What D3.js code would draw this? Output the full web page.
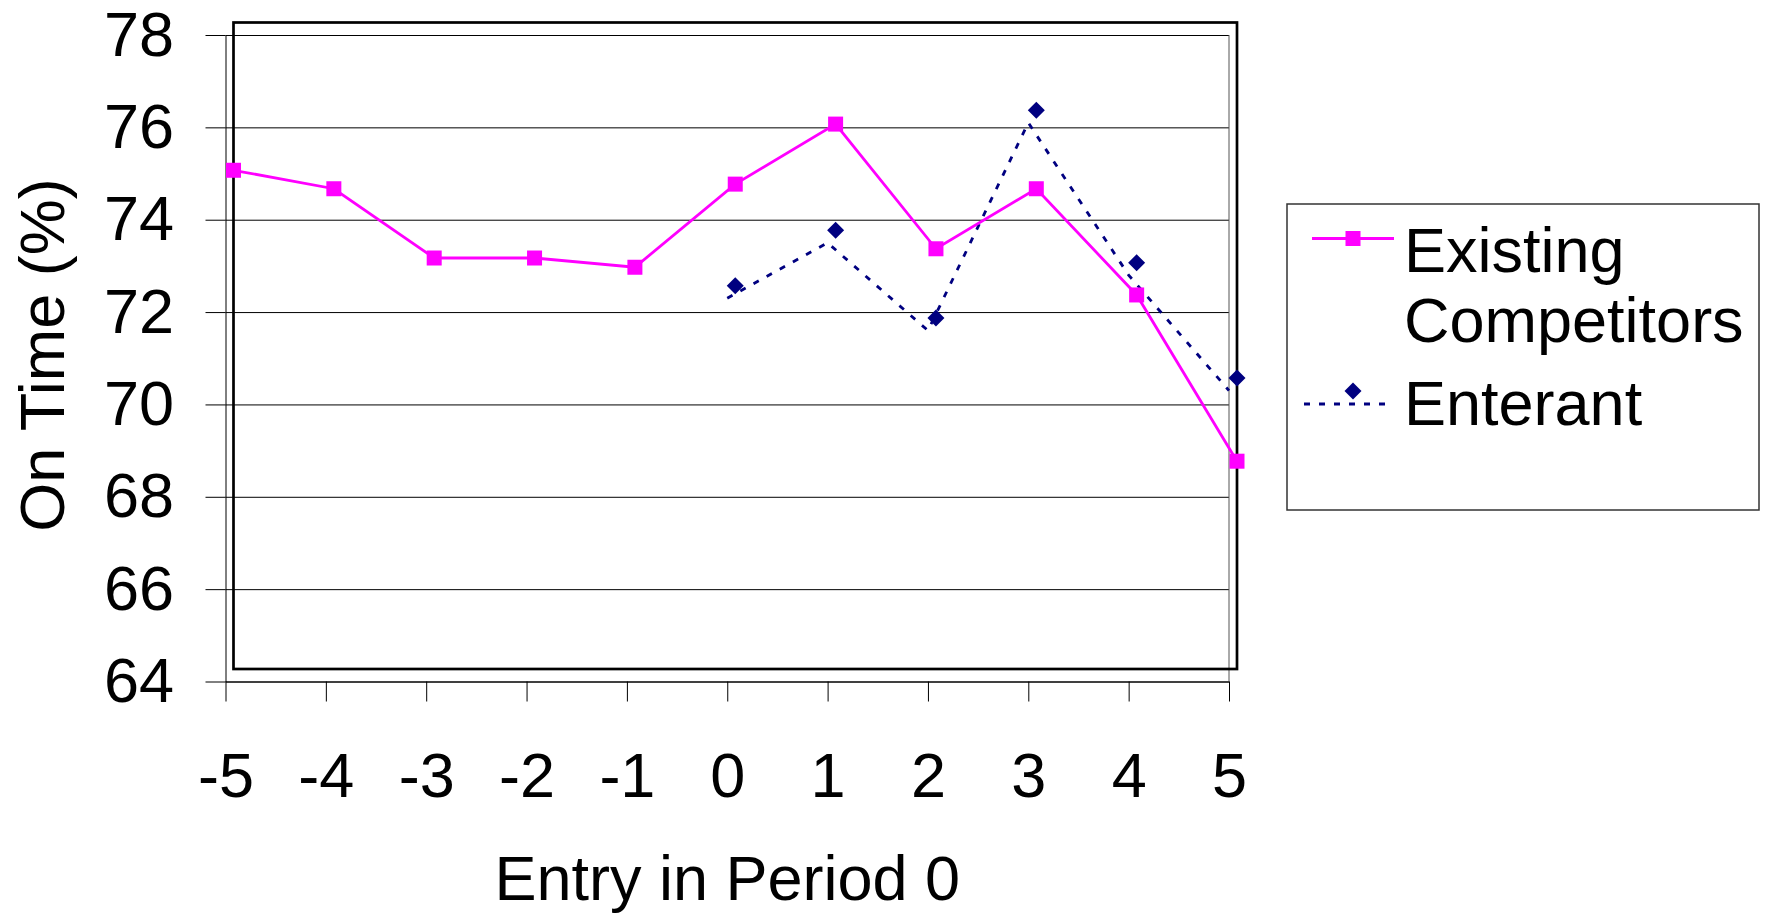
<!DOCTYPE html>
<html>
<head>
<meta charset="utf-8">
<script src="https://cdn.jsdelivr.net/npm/d3@7"></script>
<style>
  html, body { margin: 0; padding: 0; background: #fff; }
  svg { display: block; font-family: 'Liberation Sans', Arial, sans-serif; }
</style>
</head>
<body>
<div id="app"></div>
<script>
'use strict'

// Data
const periods = [-5, -4, -3, -2, -1, 0, 1, 2, 3, 4, 5]
const existingCompetitors = [74.8, 74.4, 72.9, 72.9, 72.7, 74.5, 75.8, 73.1, 74.4, 72.1, 68.5]
const enterantPeriods = [0, 1, 2, 3, 4, 5]
const enterant = [72.3, 73.5, 71.6, 76.1, 72.8, 70.3]
const yTicks = [64, 66, 68, 70, 72, 74, 76, 78]
const seriesNames = ['Existing', 'Competitors', 'Enterant']

const drawChart = () => {

  const setWidth = 1767
  const setHeight = 915

  const plot = {
    left: 225.5,
    right: 1229,
    top: 35,
    bottom: 681.5
  }

  // the original renders frame / markers slightly displaced from the grid
  const shift = { x: 8, y: -12.5 }
  const fontSize = 63

  const svg = d3.select('#app')
    .append('svg')
    .attr('width', setWidth)
    .attr('height', setHeight)

  svg.append('rect')
    .attr('width', setWidth)
    .attr('height', setHeight)
    .attr('fill', '#fff')

  const scaleX = d3.scaleLinear()
    .domain([d3.min(periods), d3.max(periods)])
    .range([plot.left, plot.right])

  const scaleY = d3.scaleLinear()
    .domain([d3.min(yTicks), d3.max(yTicks)])
    .range([plot.bottom, plot.top])

  // gridlines
  svg.append('g')
    .attr('transform', `translate(${plot.left},0)`)
    .call(d3.axisLeft(scaleY)
      .tickValues(yTicks)
      .tickSize(-(plot.right - plot.left))
      .tickFormat(''))
    .call(g => g.select('.domain').remove())
    .call(g => g.selectAll('line').attr('stroke', '#000').attr('stroke-width', 1))

  // right edge of plot area
  svg.append('line')
    .attr('x1', plot.right).attr('x2', plot.right)
    .attr('y1', plot.top).attr('y2', plot.bottom)
    .attr('stroke', '#555')
    .attr('stroke-width', 1)

  // y axis
  svg.append('g')
    .attr('transform', `translate(${plot.left},0)`)
    .call(d3.axisLeft(scaleY)
      .tickValues(yTicks)
      .tickSize(20)
      .tickSizeOuter(0)
      .tickPadding(31.5))
    .call(g => g.selectAll('line').attr('stroke', '#000'))
    .call(g => g.select('.domain').attr('stroke', '#000'))
    .call(g => g.selectAll('text')
      .attr('font-size', fontSize)
      .attr('font-family', 'Liberation Sans, Arial, sans-serif')
      .attr('fill', '#000'))

  // x axis (plain hyphen for negatives, like the original)
  svg.append('g')
    .attr('transform', `translate(0,${plot.bottom})`)
    .call(d3.axisBottom(scaleX)
      .tickValues(periods)
      .tickFormat(d => String(d))
      .tickSize(20)
      .tickSizeOuter(0))
    .call(g => g.selectAll('line').attr('stroke', '#000'))
    .call(g => g.select('.domain').attr('stroke', '#000'))
    .call(g => g.selectAll('text')
      .attr('y', 115.5)
      .attr('dy', null)
      .attr('font-size', fontSize)
      .attr('font-family', 'Liberation Sans, Arial, sans-serif')
      .attr('fill', '#000'))

  // frame around plot area
  svg.append('rect')
    .attr('x', plot.left + shift.x)
    .attr('y', plot.top + shift.y)
    .attr('width', plot.right - plot.left)
    .attr('height', plot.bottom - plot.top)
    .attr('fill', 'none')
    .attr('stroke', '#000')
    .attr('stroke-width', 2.7)

  // Enterant line (not displaced)
  const enterantLine = d3.line()
    .x((d, i) => scaleX(enterantPeriods[i]))
    .y(d => scaleY(d))

  svg.append('path')
    .datum(enterant)
    .attr('d', enterantLine)
    .attr('fill', 'none')
    .attr('stroke', '#000080')
    .attr('stroke-width', 2.8)
    .attr('stroke-dasharray', '6,9')

  const shifted = svg.append('g')
    .attr('transform', `translate(${shift.x},${shift.y})`)

  const existingLine = d3.line()
    .x((d, i) => scaleX(periods[i]))
    .y(d => scaleY(d))

  shifted.append('path')
    .datum(existingCompetitors)
    .attr('d', existingLine)
    .attr('fill', 'none')
    .attr('stroke', '#ff00ff')
    .attr('stroke-width', 2.8)

  const squareSize = 15
  const diamond = r => `M0,${-r}L${r},0L0,${r}L${-r},0Z`

  shifted.selectAll('rect.existing')
    .data(existingCompetitors)
    .enter()
    .append('rect')
    .classed('existing', true)
    .attr('x', (d, i) => scaleX(periods[i]) - squareSize / 2)
    .attr('y', d => scaleY(d) - squareSize / 2)
    .attr('width', squareSize)
    .attr('height', squareSize)
    .attr('fill', '#ff00ff')

  shifted.selectAll('path.enterant')
    .data(enterant)
    .enter()
    .append('path')
    .classed('enterant', true)
    .attr('d', diamond(8.5))
    .attr('transform', (d, i) => `translate(${scaleX(enterantPeriods[i])},${scaleY(d)})`)
    .attr('fill', '#000080')

  // axis titles
  svg.append('text')
    .attr('transform', 'translate(64,355) rotate(-90)')
    .attr('text-anchor', 'middle')
    .attr('font-size', fontSize)
    .text('On Time (%)')

  svg.append('text')
    .attr('x', (plot.left + plot.right) / 2)
    .attr('y', 900)
    .attr('text-anchor', 'middle')
    .attr('font-size', fontSize)
    .text('Entry in Period 0')

  // legend
  const legend = svg.append('g')

  legend.append('rect')
    .attr('x', 1287)
    .attr('y', 204)
    .attr('width', 472)
    .attr('height', 306)
    .attr('fill', '#fff')
    .attr('stroke', '#333')
    .attr('stroke-width', 1.5)

  legend.append('line')
    .attr('x1', 1312).attr('x2', 1394)
    .attr('y1', 238.5).attr('y2', 238.5)
    .attr('stroke', '#ff00ff')
    .attr('stroke-width', 2.8)

  legend.append('rect')
    .attr('x', 1353 - squareSize / 2)
    .attr('y', 238.5 - squareSize / 2)
    .attr('width', squareSize)
    .attr('height', squareSize)
    .attr('fill', '#ff00ff')

  legend.append('line')
    .attr('x1', 1304).attr('x2', 1386)
    .attr('y1', 404).attr('y2', 404)
    .attr('stroke', '#000080')
    .attr('stroke-width', 2.8)
    .attr('stroke-dasharray', '6,9')

  legend.append('path')
    .attr('d', diamond(8.5))
    .attr('transform', 'translate(1353,391)')
    .attr('fill', '#000080')

  legend.selectAll('text')
    .data(seriesNames)
    .enter()
    .append('text')
    .attr('x', 1404)
    .attr('y', (d, i) => [272, 341.5, 424.5][i])
    .attr('font-size', fontSize)
    .text(d => d)
}

drawChart()
</script>
</body>
</html>
